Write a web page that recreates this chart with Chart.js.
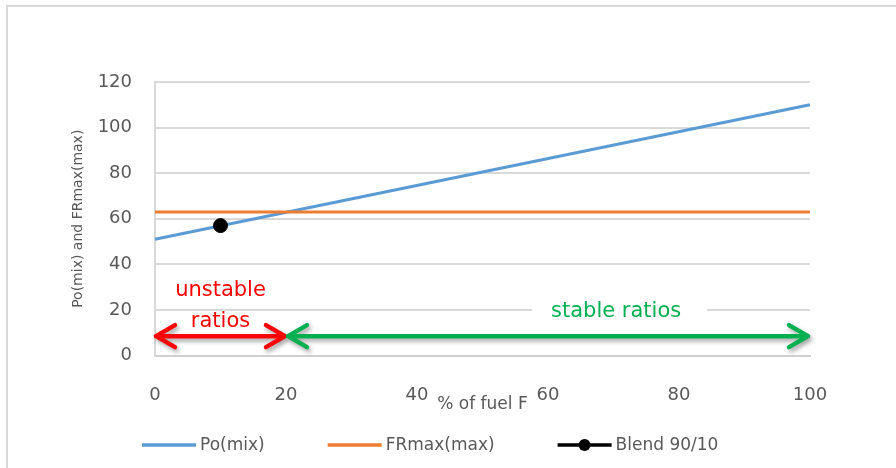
<!DOCTYPE html>
<html>
<head>
<meta charset="utf-8">
<script src="https://cdn.jsdelivr.net/npm/chart.js@4.4.1/dist/chart.umd.min.js"></script>
<style>
  html, body { margin: 0; padding: 0; background: #fff; }
  #wrap { position: relative; width: 896px; height: 468px; overflow: hidden; }
  #frame { position: absolute; left: 6px; top: 5px; width: 1000px; height: 1000px;
           border-left: 2px solid #d9d9d9; border-top: 2px solid #d9d9d9; pointer-events: none; }
</style>
</head>
<body>
<div id="wrap">
  <canvas id="chart" width="896" height="468"></canvas>
  <div id="frame"></div>
</div>
<script>
// values
var fuelPct    = [0, 100];
var poMix      = [51, 110];
var frMaxPct   = [0, 100];
var frMax      = [63, 63];
var blendPct   = [10];
var blendVal   = [57];

var xTickValues = [0, 20, 40, 60, 80, 100];
var yTickValues = [0, 20, 40, 60, 80, 100, 120];

// the two zones marked with arrows
var zoneFrom   = [0, 20];
var zoneTo     = [20, 100];
var arrowLevel = 8.5;

var FONT = "'DejaVu Sans', sans-serif";
var GREY = '#595959';

function pts(xs, ys) {
    var out = [];
    for (var i = 0; i < xs.length; i++) out.push({ x: xs[i], y: ys[i] });
    return out;
}

function setTicks(values) {
    return function (scale) {
        scale.ticks = values.map(function (v) { return { value: v }; });
    };
}

function drawArrow(ctx, x1, x2, y, color) {
    ctx.save();
    ctx.strokeStyle = color;
    ctx.lineWidth = 4.5;
    ctx.lineCap = 'round';
    ctx.lineJoin = 'round';
    ctx.shadowColor = 'rgba(0,0,0,0.35)';
    ctx.shadowBlur = 4;
    ctx.shadowOffsetX = 2;
    ctx.shadowOffsetY = 3;
    ctx.beginPath();
    ctx.moveTo(x1, y); ctx.lineTo(x2, y);
    ctx.moveTo(x1 + 19, y - 11); ctx.lineTo(x1, y); ctx.lineTo(x1 + 19, y + 11);
    ctx.moveTo(x2 - 19, y - 11); ctx.lineTo(x2, y); ctx.lineTo(x2 - 19, y + 11);
    ctx.stroke();
    ctx.restore();
}

var zonePlugin = {
    id: 'zones',
    afterDatasetsDraw: function (chart) {
        var ctx = chart.ctx, xs = chart.scales.x, ys = chart.scales.y;
        var ay = ys.getPixelForValue(arrowLevel);

        // white patch under "stable ratios" (hides the gridline)
        ctx.save();
        ctx.fillStyle = '#fff';
        var cx = xs.getPixelForValue(70.4), cy = ys.getPixelForValue(19.5);
        ctx.fillRect(cx - 84, cy - 13, 175, 26);

        ctx.font = '21px ' + FONT;
        ctx.textAlign = 'center';
        ctx.textBaseline = 'middle';
        ctx.fillStyle = '#00b050';
        ctx.fillText('stable ratios', cx, cy);

        ctx.fillStyle = '#ff0000';
        ctx.fillText('unstable', xs.getPixelForValue(10), ys.getPixelForValue(28.4));
        ctx.fillText('ratios', xs.getPixelForValue(10), ys.getPixelForValue(14.8));
        ctx.restore();

        drawArrow(ctx, xs.getPixelForValue(zoneFrom[0]) + 1, xs.getPixelForValue(zoneTo[0]) - 1, ay, '#ff0000');
        drawArrow(ctx, xs.getPixelForValue(zoneFrom[1]) + 2, xs.getPixelForValue(zoneTo[1]) - 2, ay, '#00b050');
    }
};

// Excel-like legend row under the axis
var legendPlugin = {
    id: 'rowLegend',
    afterDraw: function (chart) {
        var ctx = chart.ctx;
        var x = 142, y = 445;
        ctx.save();
        ctx.font = '17px ' + FONT;
        ctx.textBaseline = 'middle';
        chart.data.datasets.forEach(function (ds) {
            ctx.strokeStyle = ds.borderColor;
            ctx.lineWidth = 3.5;
            ctx.beginPath();
            ctx.moveTo(x, y); ctx.lineTo(x + 54, y);
            ctx.stroke();
            if (ds.pointRadius > 0) {
                ctx.fillStyle = ds.backgroundColor;
                ctx.beginPath();
                ctx.arc(x + 27, y, 6, 0, Math.PI * 2);
                ctx.fill();
            }
            ctx.fillStyle = GREY;
            ctx.fillText(ds.label, x + 58, y + 1);
            x += 58 + ctx.measureText(ds.label).width + 63;
        });
        ctx.restore();
    }
};

new Chart(document.getElementById('chart'), {
    type: 'scatter',
    data: {
        datasets: [
            { label: 'Po(mix)', data: pts(fuelPct, poMix), showLine: true,
              borderColor: '#5b9bd5', backgroundColor: '#5b9bd5', borderWidth: 3,
              pointRadius: 0, clip: false, order: 3 },
            { label: 'FRmax(max)', data: pts(frMaxPct, frMax), showLine: true,
              borderColor: '#ed7d31', backgroundColor: '#ed7d31', borderWidth: 3,
              pointRadius: 0, clip: false, order: 2 },
            { label: 'Blend 90/10', data: pts(blendPct, blendVal), showLine: false,
              borderColor: '#000000', backgroundColor: '#000000',
              pointRadius: 7, pointHoverRadius: 7, order: 1 }
        ]
    },
    options: {
        responsive: false,
        animation: false,
        layout: { padding: { left: 0, top: 82, right: 86, bottom: 0 } },
        plugins: { legend: { display: false }, tooltip: { enabled: false } },
        scales: {
            x: {
                type: 'linear', min: 0, max: 100,
                afterBuildTicks: setTicks(xTickValues),
                afterFit: function (s) { s.height = 112.5; },
                grid: { display: false },
                border: { display: true, color: '#d0d0d0', width: 2 },
                ticks: { color: GREY, padding: 21, font: { family: FONT, size: 18 } },
                title: { display: true, text: '% of fuel F', color: GREY,
                         font: { family: FONT, size: 17 }, padding: { top: 0, bottom: 53 } }
            },
            y: {
                type: 'linear', min: 0, max: 120,
                afterBuildTicks: setTicks(yTickValues),
                afterFit: function (s) { s.width = 155; },
                grid: { color: '#d9d9d9', lineWidth: 2, drawTicks: false },
                border: { display: true, color: '#d9d9d9', width: 2 },
                ticks: { color: GREY, padding: 23, font: { family: FONT, size: 18 } },
                title: { display: true, text: 'Po(mix) and FRmax(max)', color: GREY,
                         font: { family: FONT, size: 14 }, padding: { top: 70, bottom: 0 } }
            }
        }
    },
    plugins: [zonePlugin, legendPlugin]
});
</script>
</body>
</html>
